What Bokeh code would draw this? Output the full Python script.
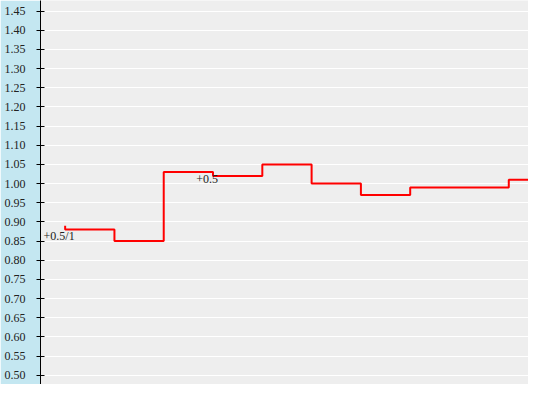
from bokeh.plotting import figure
from bokeh.models import Range1d, FixedTicker, NumeralTickFormatter, ColumnDataSource
from bokeh.core.properties import value
from bokeh.embed import file_html
from bokeh.resources import INLINE

# data
step_x = [0, 1, 2, 3, 4, 5, 6, 7, 8, 9, 10]
step_y = [0.89, 0.88, 0.85, 1.03, 1.02, 1.05, 1.00, 0.97, 0.99, 0.99, 1.01]
label_x = [0, 3]
label_y = [0.88, 1.02]
label_text = ["+0.5/1", "+0.5"]
y_ticks = [round(0.50 + 0.05 * i, 2) for i in range(20)]

p = figure(width=528, height=384, output_backend="svg", toolbar_location=None,
           x_range=Range1d(-0.5, 9.4), y_range=Range1d(0.476, 1.4775))
p.min_border_left = 40
p.min_border_right = 0
p.min_border_top = 0
p.min_border_bottom = 0
p.border_fill_color = "#c4e7f1"
p.background_fill_color = "#eeeeee"
p.outline_line_color = None

p.xaxis.visible = False
p.xgrid.visible = False
p.ygrid.grid_line_color = "white"
p.ygrid.grid_line_width = 1

ax = p.yaxis[0]
ax.ticker = FixedTicker(ticks=y_ticks)
ax.formatter = NumeralTickFormatter(format="0.00")
ax.major_tick_in = 4
ax.major_tick_out = 4
ax.minor_tick_in = 0
ax.minor_tick_out = 0
ax.axis_line_color = "black"
ax.major_tick_line_color = "black"
ax.major_label_text_font = "Liberation Serif"
ax.major_label_text_font_size = "12px"
ax.major_label_text_color = "#222222"
ax.major_label_standoff = 11

p.step(step_x, step_y, mode="before", line_color="red", line_width=2)

src = ColumnDataSource(dict(x=label_x, y=label_y, t=label_text))
p.text(x="x", y="y", text="t", source=src, text_font=value("Liberation Serif"),
       text_font_size="12px", text_align="center", text_baseline="top",
       text_color="#222222", x_offset=-6, y_offset=-1)

open("out.html", "w").write(file_html(p, INLINE))
